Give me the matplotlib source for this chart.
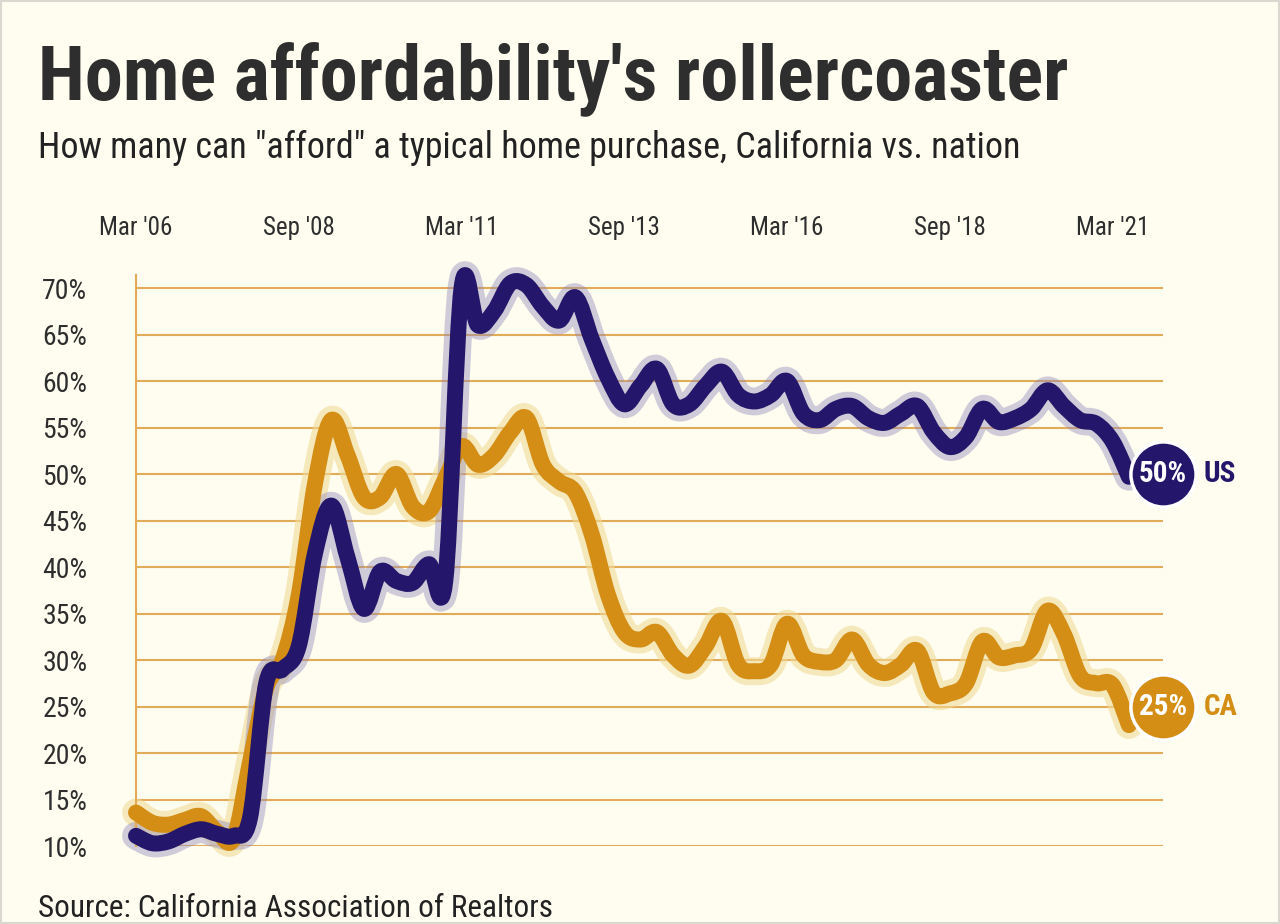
import matplotlib
matplotlib.use("Agg")
import matplotlib.pyplot as plt
from matplotlib import font_manager
from matplotlib.path import Path
from matplotlib.patches import PathPatch, Rectangle

# quarterly values, Q1 2006 .. Q2 2021 (share of households able to afford a median home, %)
us = [11.1, 10.3, 10.5, 11.3, 11.8, 11.3, 11.1, 13.0, 27.5, 29.0,
      31.5, 41.5, 46.6, 41.0, 35.5, 39.5, 38.5, 38.3, 40.3, 38.5,
      70.0, 66.0, 67.5, 70.5, 70.3, 68.0, 66.5, 69.0, 64.5, 60.3,
      57.5, 59.5, 61.3, 57.5, 57.5, 59.5, 61.0, 58.5, 57.8, 58.5,
      60.0, 56.5, 55.8, 57.0, 57.3, 56.0, 55.5, 56.5, 57.3, 54.5,
      52.9, 54.0, 57.0, 55.6, 56.0, 57.0, 59.0, 57.3, 55.8, 55.4,
      53.5, 49.7]
ca = [13.6, 12.5, 12.3, 12.8, 13.2, 11.5, 10.8, 19.0, 27.0, 30.0,
      37.0, 49.0, 55.8, 52.0, 47.5, 47.5, 50.0, 46.5, 46.0, 49.5,
      53.0, 51.0, 52.0, 54.5, 56.0, 51.0, 49.2, 48.0, 43.5, 37.0,
      33.0, 32.2, 33.0, 30.5, 29.4, 31.5, 34.2, 29.5, 28.8, 29.5,
      33.9, 30.5, 29.8, 30.0, 32.2, 29.5, 28.6, 29.5, 31.0, 26.5,
      26.4, 27.5, 32.0, 30.3, 30.5, 31.2, 35.3, 32.8, 28.3, 27.5,
      27.3, 23.0]
tick_pos = [0, 10, 20, 30, 40, 50, 60]
tick_labels = ["Mar '06", "Sep '08", "Mar '11", "Sep '13", "Mar '16", "Sep '18", "Mar '21"]
y_ticks = [10, 15, 20, 25, 30, 35, 40, 45, 50, 55, 60, 65, 70]
end_labels = [("50%", "US", 50), ("25%", "CA", 25)]

names = {f.name for f in font_manager.fontManager.ttflist}
font = "Roboto"
for cand in ["Roboto Condensed", "Liberation Sans Narrow"]:
    if cand in names:
        font = cand
        break
plt.rcParams["font.family"] = [font, "DejaVu Sans"]

BG = "#fefdf0"
NAVY = "#24166a"
GOLD = "#d48e16"
GRID = "#e2ab58"
TXT = "#2e2e2e"


def spline(xs, ys):
    # cardinal (Catmull-Rom) curve through the points
    verts = [(xs[0], ys[0])]
    codes = [Path.MOVETO]
    n = len(xs)
    for i in range(n - 1):
        a, b = max(i - 1, 0), min(i + 2, n - 1)
        c1 = (xs[i] + (xs[i + 1] - xs[a]) / 6, ys[i] + (ys[i + 1] - ys[a]) / 6)
        c2 = (xs[i + 1] - (xs[b] - xs[i]) / 6, ys[i + 1] - (ys[b] - ys[i]) / 6)
        verts += [c1, c2, (xs[i + 1], ys[i + 1])]
        codes += [Path.CURVE4] * 3
    return Path(verts, codes)


fig = plt.figure(figsize=(12.8, 9.24), dpi=100, facecolor=BG)
fig.patches.append(Rectangle((0.001, 0.001), 0.998, 0.998, transform=fig.transFigure,
                             fill=False, ec="#d9d9d0", lw=1.5))

ax = fig.add_axes([0.10625, 0.0844, 0.8024, 0.618])
ax.set_facecolor(BG)
ax.set_xlim(0, 63.1)
ax.set_ylim(10, 71.4)

for v in y_ticks:
    ax.axhline(v, color=GRID, lw=1.5, zorder=1)

xs = list(range(len(us)))
for vals, halo, halo_a, col in [(ca, "#f0da96", 0.6, GOLD), (us, "#8f88b8", 0.42, NAVY)]:
    p = spline(xs, vals)
    ax.add_patch(PathPatch(p, fill=False, ec=halo, alpha=halo_a, lw=20,
                           capstyle="round", joinstyle="round", zorder=2, clip_on=False))
    ax.add_patch(PathPatch(p, fill=False, ec=col, lw=11.5,
                           capstyle="round", joinstyle="round", zorder=3, clip_on=False))

for (pct, name, val), col in zip(end_labels, [NAVY, GOLD]):
    ax.scatter([63.1], [val], s=2200, color=col, edgecolor="white", linewidth=2.5,
               zorder=5, clip_on=False)
    ax.text(63.1, val, pct, color="white", fontsize=21, fontweight="bold",
            ha="center", va="center", zorder=6)
    ax.text(65.6, val, name, color=col, fontsize=21, fontweight="bold",
            ha="left", va="center", zorder=6)

for s in ["top", "right", "bottom"]:
    ax.spines[s].set_visible(False)
ax.spines["left"].set_color(GRID)
ax.spines["left"].set_linewidth(1.5)

ax.set_yticks(y_ticks)
ax.set_yticklabels([f"{v}%" for v in y_ticks])
ax.tick_params(axis="y", length=0, pad=35, labelsize=20, labelcolor=TXT)
ax.xaxis.tick_top()
ax.set_xticks(tick_pos)
ax.set_xticklabels(tick_labels)
ax.tick_params(axis="x", length=0, pad=25, labelsize=18, labelcolor=TXT)

fig.text(0.03, 0.893, "Home affordability's rollercoaster", fontsize=55, fontweight="bold",
         color=TXT, ha="left", va="baseline")
fig.text(0.03, 0.829, 'How many can "afford" a typical home purchase, California vs. nation',
         fontsize=26, color="#222222", ha="left", va="baseline")
fig.text(0.03, 0.008, "Source: California Association of Realtors", fontsize=22.5,
         color="#222222", ha="left", va="baseline")

fig.savefig("out.png", dpi=100, facecolor=BG)
